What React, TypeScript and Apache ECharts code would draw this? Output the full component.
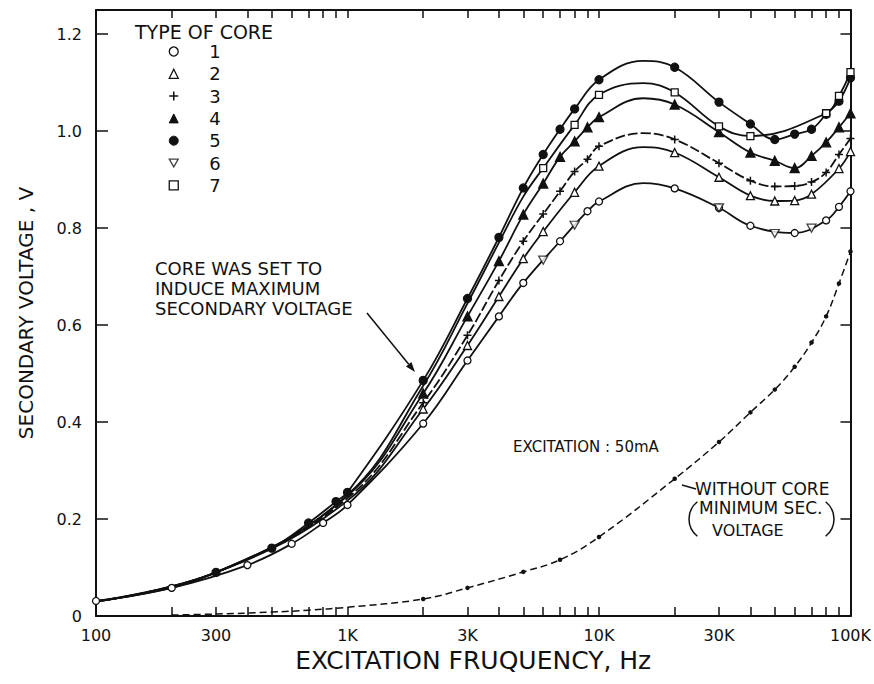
import React, { useEffect, useRef } from 'react';
import * as echarts from 'echarts';

// Secondary voltage (V) versus excitation frequency (Hz), one list pair per core type
const core1Freq = [100, 200, 400, 600, 800, 1000, 2000, 3000, 4000, 5000, 7000, 9000, 10000, 15000, 20000, 30000, 40000, 60000, 80000, 90000, 100000];
const core1Volt = [0.031, 0.058, 0.105, 0.149, 0.192, 0.229, 0.397, 0.527, 0.618, 0.687, 0.773, 0.835, 0.855, 0.893, 0.882, 0.842, 0.805, 0.79, 0.816, 0.844, 0.876];

const core2Freq = [100, 300, 1000, 2000, 3000, 4000, 5000, 6000, 8000, 10000, 15000, 20000, 30000, 40000, 50000, 60000, 70000, 90000, 100000];
const core2Volt = [0.03, 0.09, 0.238, 0.427, 0.558, 0.659, 0.737, 0.793, 0.874, 0.928, 0.967, 0.956, 0.905, 0.867, 0.856, 0.857, 0.87, 0.923, 0.958];

const core3Freq = [100, 300, 1000, 2000, 3000, 4000, 5000, 6000, 7000, 8000, 9000, 10000, 15000, 20000, 30000, 40000, 50000, 60000, 70000, 80000, 90000, 100000];
const core3Volt = [0.03, 0.09, 0.243, 0.44, 0.579, 0.692, 0.773, 0.829, 0.876, 0.917, 0.942, 0.969, 0.996, 0.983, 0.934, 0.898, 0.886, 0.887, 0.895, 0.915, 0.952, 0.985];

const core4Freq = [100, 300, 1000, 2000, 3000, 4000, 5000, 6000, 7000, 8000, 9000, 10000, 15000, 20000, 30000, 40000, 50000, 60000, 70000, 80000, 90000, 100000];
const core4Volt = [0.03, 0.09, 0.248, 0.459, 0.618, 0.732, 0.828, 0.892, 0.947, 0.979, 1.008, 1.029, 1.068, 1.055, 0.998, 0.956, 0.939, 0.924, 0.949, 0.977, 1.008, 1.037];

const core5Freq = [100, 200, 300, 500, 700, 900, 1000, 2000, 3000, 4000, 5000, 6000, 7000, 8000, 10000, 15000, 20000, 30000, 40000, 50000, 60000, 70000, 80000, 90000, 100000];
const core5Volt = [0.03, 0.058, 0.09, 0.14, 0.192, 0.236, 0.255, 0.486, 0.655, 0.781, 0.883, 0.952, 1.004, 1.046, 1.106, 1.145, 1.132, 1.06, 1.015, 0.983, 0.994, 1.004, 1.035, 1.062, 1.11];

const core6Freq = [6000, 8000, 30000, 50000, 70000];
const core6Volt = [0.734, 0.806, 0.842, 0.789, 0.8];

const core7Freq = [100, 300, 1000, 2000, 3000, 4000, 5000, 6000, 8000, 10000, 15000, 20000, 30000, 40000, 80000, 90000, 100000];
const core7Volt = [0.03, 0.09, 0.25, 0.475, 0.645, 0.77, 0.865, 0.924, 1.013, 1.075, 1.099, 1.08, 1.01, 0.99, 1.037, 1.073, 1.122];

const noCoreFreq = [200, 300, 500, 700, 1000, 2000, 3000, 5000, 7000, 10000, 20000, 30000, 40000, 50000, 60000, 70000, 80000, 90000, 100000];
const noCoreVolt = [0.002, 0.004, 0.008, 0.012, 0.018, 0.035, 0.058, 0.091, 0.116, 0.163, 0.283, 0.359, 0.42, 0.467, 0.514, 0.564, 0.618, 0.686, 0.752];

// Axis ticks and labels
const freqLabels = [100, 300, 1000, 3000, 10000, 30000, 100000];
const decadeStarts = [100, 1000, 10000];
const decadeSteps = [1, 2, 3, 4, 5, 6, 7, 8, 9];
const voltTicks = [0, 0.2, 0.4, 0.6, 0.8, 1.0, 1.2];

// frequencies that are read off the curve but carry no marker
const unmarked = [15000];

const FONT = '"DejaVu Sans", "Liberation Sans", sans-serif';
const INK = '#111';

const freqTicks = decadeStarts.flatMap((d) => decadeSteps.map((s) => d * s)).concat([100000]);
const lg = (f: number) => Math.log10(f);
const fmtFreq = (f: number) => (f >= 1000 ? `${f / 1000}K` : `${f}`);

const PLUS = 'path://M5,0L5,10M0,5L10,5';
const DOWN_TRI = 'path://M0,0L10,0L5,8.66Z';

// points below markFrom are drawn as part of the curve without a marker
const toPoints = (freq: number[], volt: number[], markFrom: number) =>
  freq.map((f, i) =>
    f >= markFrom && !unmarked.includes(f)
      ? [lg(f), volt[i]]
      : { value: [lg(f), volt[i]], symbol: 'none' }
  );

function coreLine(
  name: string,
  freq: number[],
  volt: number[],
  markFrom: number,
  symbol: string,
  size: number,
  filled: boolean,
  dashed = false
) {
  return {
    type: 'line',
    name,
    data: toPoints(freq, volt, markFrom),
    smooth: 0.4,
    symbol,
    symbolSize: size,
    showAllSymbol: true,
    lineStyle: { color: INK, width: 1.8, type: dashed ? [10, 3] : 'solid' },
    itemStyle: { color: filled ? INK : '#fff', borderColor: INK, borderWidth: 1.3 },
    emphasis: { disabled: true },
  };
}

export default function App() {
  const ref = useRef<HTMLDivElement>(null);

  useEffect(() => {
    if (!ref.current) return;
    const chart = echarts.init(ref.current, undefined, { renderer: 'svg' });

    const hollow = { color: '#fff', borderColor: INK, borderWidth: 1.3 };
    const solid = { color: INK, borderColor: INK, borderWidth: 1 };

    const xTickCommon = {
      type: 'value',
      min: 2,
      max: 5,
      splitLine: { show: false },
      axisLine: { show: true, onZero: false, lineStyle: { color: INK, width: 2 } },
    };
    const yCommon = {
      type: 'value',
      min: 0,
      max: 1.25,
      splitLine: { show: false },
      axisLine: { show: true, onZero: false, lineStyle: { color: INK, width: 2 } },
    };

    const note = (text: string, x: number, y: number, size: number) => ({
      type: 'text',
      x,
      y,
      style: { text, font: `${size}px ${FONT}`, fill: INK, textVerticalAlign: 'middle', lineHeight: size - 1 },
    });

    chart.setOption({
      animation: false,
      backgroundColor: '#fff',
      textStyle: { fontFamily: FONT, color: INK },
      grid: { left: 96, right: 21, top: 10, bottom: 68 },
      xAxis: [
        {
          ...xTickCommon,
          position: 'bottom',
          name: 'EXCITATION FRUQUENCY, Hz',
          nameLocation: 'middle',
          nameGap: 31,
          nameTextStyle: { fontFamily: FONT, fontSize: 25, color: INK },
          axisTick: {
            show: true,
            inside: true,
            length: 9,
            customValues: freqTicks.map(lg),
            lineStyle: { color: INK, width: 1.5 },
          },
          axisLabel: {
            show: true,
            customValues: freqLabels.map(lg),
            formatter: (v: number) => fmtFreq(Math.round(Math.pow(10, v))),
            fontFamily: FONT,
            fontSize: 16,
            color: INK,
            margin: 11,
          },
        },
        {
          ...xTickCommon,
          position: 'top',
          axisTick: {
            show: true,
            inside: true,
            length: 8,
            customValues: freqTicks.map(lg),
            lineStyle: { color: INK, width: 1.5 },
          },
          axisLabel: { show: false },
        },
      ],
      yAxis: [
        {
          ...yCommon,
          position: 'left',
          name: 'SECONDARY VOLTAGE , V',
          nameLocation: 'middle',
          nameGap: 60,
          nameTextStyle: { fontFamily: FONT, fontSize: 20, color: INK },
          axisTick: {
            show: true,
            inside: true,
            length: 12,
            customValues: voltTicks,
            lineStyle: { color: INK, width: 1.5 },
          },
          axisLabel: {
            show: true,
            customValues: voltTicks,
            formatter: (v: number) => (v === 0 ? '0' : v.toFixed(1)),
            fontFamily: FONT,
            fontSize: 16,
            color: INK,
            margin: 14,
          },
        },
        {
          ...yCommon,
          position: 'right',
          axisTick: {
            show: true,
            inside: true,
            length: 10,
            customValues: voltTicks,
            lineStyle: { color: INK, width: 1.5 },
          },
          axisLabel: { show: false },
        },
      ],
      legend: {
        orient: 'vertical',
        left: 168.5,
        top: 42.5,
        padding: 0,
        itemWidth: 9,
        itemHeight: 9,
        itemGap: 4.3,
        selectedMode: false,
        textStyle: {
          fontFamily: FONT,
          fontSize: 18,
          lineHeight: 16,
          color: INK,
          padding: [0, 0, 0, 26],
        },
        data: [
          { name: '1', icon: 'circle', itemStyle: hollow },
          { name: '2', icon: 'triangle', itemStyle: hollow },
          { name: '3', icon: PLUS, itemStyle: { color: INK, borderColor: INK, borderWidth: 1.5 } },
          { name: '4', icon: 'triangle', itemStyle: solid },
          { name: '5', icon: 'circle', itemStyle: solid },
          { name: '6', icon: DOWN_TRI, itemStyle: hollow },
          { name: '7', icon: 'rect', itemStyle: hollow },
        ],
      },
      series: [
        coreLine('1', core1Freq, core1Volt, 100, 'circle', 7, false),
        coreLine('2', core2Freq, core2Volt, 2000, 'triangle', 8, false),
        {
          ...coreLine('3', core3Freq, core3Volt, 2000, PLUS, 8, true, true),
          itemStyle: { color: INK, borderColor: INK, borderWidth: 1.5 },
        },
        coreLine('4', core4Freq, core4Volt, 2000, 'triangle', 9, true),
        coreLine('5', core5Freq, core5Volt, 300, 'circle', 8, true),
        {
          type: 'scatter',
          name: '6',
          data: core6Freq.map((f, i) => [lg(f), core6Volt[i]]),
          symbol: DOWN_TRI,
          symbolSize: [9, 8],
          itemStyle: hollow,
          emphasis: { disabled: true },
          z: 3,
        },
        coreLine('7', core7Freq, core7Volt, 6000, 'rect', 7, false),
        {
          type: 'line',
          name: 'WITHOUT CORE',
          data: toPoints(noCoreFreq, noCoreVolt, 2000),
          smooth: 0.4,
          symbol: 'circle',
          symbolSize: 4.5,
          showAllSymbol: true,
          lineStyle: { color: INK, width: 1.5, type: [7, 4] },
          itemStyle: { color: INK },
          emphasis: { disabled: true },
        },
      ],
      graphic: [
        note('TYPE OF CORE', 135, 31.5, 19),
        note('CORE WAS SET TO', 155, 268, 18),
        note('INDUCE MAXIMUM', 155, 288, 18),
        note('SECONDARY VOLTAGE', 155, 308, 18),
        {
          type: 'line',
          shape: { x1: 367, y1: 313, x2: 408.7, y2: 364.2 },
          style: { stroke: INK, lineWidth: 1.5 },
        },
        {
          type: 'polygon',
          shape: { points: [[415, 372], [406, 366.4], [411.4, 362]] },
          style: { fill: INK },
        },
        note('EXCITATION : 50mA', 513, 447, 15),
        {
          type: 'line',
          shape: { x1: 682, y1: 485, x2: 696, y2: 489 },
          style: { stroke: INK, lineWidth: 1.5 },
        },
        note('WITHOUT CORE', 695, 489, 17),
        note('MINIMUM SEC.', 699, 508, 17),
        note('VOLTAGE', 712, 530, 16),
        {
          type: 'arc',
          shape: { cx: 711, cy: 519, r: 22, startAngle: Math.PI - 0.9, endAngle: Math.PI + 0.9, clockwise: true },
          style: { stroke: INK, lineWidth: 1.5, fill: 'none' },
        },
        {
          type: 'arc',
          shape: { cx: 812, cy: 519, r: 22, startAngle: -0.9, endAngle: 0.9, clockwise: true },
          style: { stroke: INK, lineWidth: 1.5, fill: 'none' },
        },
      ],
    });

    return () => chart.dispose();
  }, []);

  return (
    <div
      ref={ref}
      style={{ position: 'fixed', left: 0, top: 0, width: 874, height: 684, background: '#fff' }}
    />
  );
}
